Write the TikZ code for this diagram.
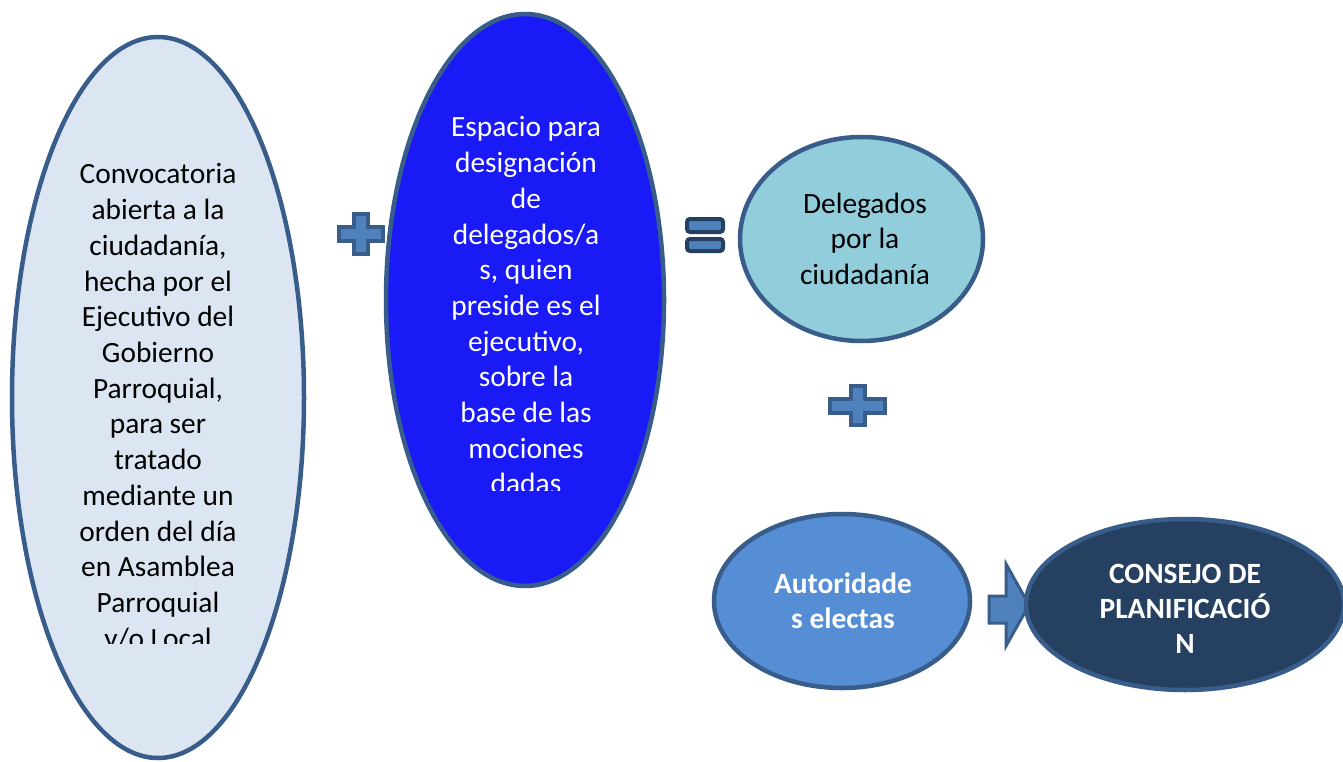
\documentclass[tikz,border=0pt]{standalone}
\usepackage{fontspec}
\setmainfont{Carlito}
\usetikzlibrary{shapes.geometric}
\definecolor{bordc}{HTML}{385D8A}
\definecolor{paleblue}{HTML}{DCE6F2}
\definecolor{brightblue}{RGB}{26,26,247}
\definecolor{aqua}{HTML}{92CDDC}
\definecolor{midblue}{HTML}{558ED5}
\definecolor{navy}{HTML}{254061}
\definecolor{signfill}{HTML}{4F81BD}
\definecolor{eqborder}{HTML}{243F60}
\newcommand\drawplus[4]{%
  \draw[signstyle] ({#1-#3},{#2-7}) -- ({#1-7},{#2-7}) -- ({#1-7},{#2-#4}) -- ({#1+7},{#2-#4})
   -- ({#1+7},{#2-7}) -- ({#1+#3},{#2-7}) -- ({#1+#3},{#2+7}) -- ({#1+7},{#2+7})
   -- ({#1+7},{#2+#4}) -- ({#1-7},{#2+#4}) -- ({#1-7},{#2+7}) -- ({#1-#3},{#2+7}) -- cycle;}
\begin{document}
\begin{tikzpicture}[x=1pt,y=-1pt,
  oval/.style={ellipse, draw=bordc, line width=4.5pt, inner sep=0pt},
  txt/.style={anchor=base, align=flush center, inner sep=0pt, text width=260pt,
    font=\fontsize{29.4}{35.7}\selectfont},
  boldtxt/.style={txt, font=\fontsize{29.4}{35}\selectfont\bfseries, text=white},
  signstyle/.style={draw=bordc, fill=signfill, line width=4pt, line join=miter},
  eqstyle/.style={draw=eqborder, fill=signfill, line width=4pt, rounded corners=3pt}]
\useasboundingbox (0,0) rectangle (1343,762);
\fill[white] (0,0) rectangle (1343,762);

% ovals
\node[oval, fill=paleblue, minimum width=292pt, minimum height=721pt] (conv) at (158,397.5) {};
\node[oval, fill=brightblue, minimum width=278pt, minimum height=572pt] (esp) at (525,300) {};
\node[oval, fill=aqua, minimum width=243pt, minimum height=204pt] (del) at (861.5,239) {};
\node[oval, fill=midblue, minimum width=256pt, minimum height=174pt] (aut) at (842,601) {};

% block arrow
\draw[signstyle, line width=3pt] (989,596) -- (1006,596) -- (1006,564) -- (1029,605)
  -- (1006,646) -- (1006,623) -- (989,623) -- cycle;

\node[oval, fill=navy, minimum width=318pt, minimum height=171pt] (cons) at (1185,604.5) {};

% texts
\begin{scope}
\clip (0,0) rectangle (1343,643);
\node[txt] (convtxt) at (158,184) {Convocatoria\\abierta a la\\ciudadanía,\\hecha por el\\Ejecutivo del\\Gobierno\\Parroquial,\\para ser\\tratado\\mediante un\\orden del día\\en Asamblea\\Parroquial\\y/o Local};
\end{scope}
\begin{scope}
\clip (0,0) rectangle (1343,490);
\node[txt, text=white] (esptxt) at (526,137) {Espacio para\\designación\\de\\delegados/a\\s, quien\\preside es el\\ejecutivo,\\sobre la\\base de las\\mociones\\dadas};
\end{scope}
\node[txt] (deltxt) at (865,213) {Delegados\\por la\\ciudadanía};
\node[boldtxt] (auttxt) at (843,593) {Autoridade\\s electas};
\node[boldtxt] (constxt) at (1185,583) {CONSEJO DE\\PLANIFICACIÓ\\N};

% operators
\drawplus{361}{234}{22}{20}
\drawplus{857.5}{405.5}{27.5}{19.5}
\draw[eqstyle] (687,219) rectangle (723,232);
\draw[eqstyle] (687,239) rectangle (723,251);
\end{tikzpicture}
\end{document}
